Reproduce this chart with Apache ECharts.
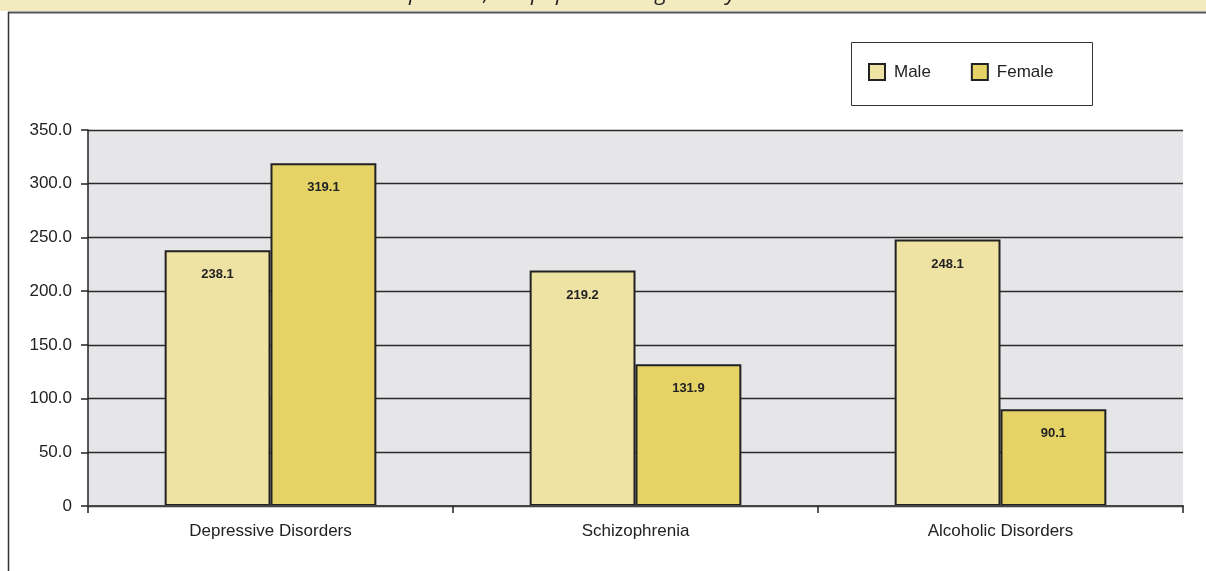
<!DOCTYPE html>
<html>
<head>
<meta charset="utf-8">
<script src="https://cdn.jsdelivr.net/npm/echarts@6/dist/echarts.min.js"></script>
<style>
html,body{margin:0;padding:0;background:#fff;}
#chart{width:1206px;height:571px;}
</style>
</head>
<body>
<div id="chart"></div>
<script>
var categories = ['Depressive Disorders', 'Schizophrenia', 'Alcoholic Disorders'];
var maleValues = [238.1, 219.2, 248.1];
var femaleValues = [319.1, 131.9, 90.1];
var seriesNames = ['Male', 'Female'];
var titleText = 'Rates per 100,000 population aged 15 years and over';

var chart = echarts.init(document.getElementById('chart'), null, {renderer: 'canvas'});
var FONT = 'Liberation Sans, Arial, sans-serif';
var labelStyle = {
  show: true,
  position: 'insideTop',
  distance: 18,
  fontFamily: FONT,
  fontSize: 13,
  fontWeight: 'bold',
  color: '#222',
  formatter: function (p) { return p.value.toFixed(1); }
};
var option = {
  animation: false,
  backgroundColor: '#ffffff',
  textStyle: {fontFamily: FONT},
  graphic: [
    {type: 'rect', shape: {x: 0, y: 0, width: 1206, height: 11}, style: {fill: '#f3ebc0'}, silent: true, z: 0},
    {type: 'text', style: {text: titleText, x: 610, y: 5, textAlign: 'center', textVerticalAlign: 'bottom', font: 'italic 22px "Open Sans", sans-serif', fill: '#222'}, silent: true, z: 1},
    {type: 'line', shape: {x1: 8, y1: 12.5, x2: 1206, y2: 12.5}, style: {stroke: '#555', lineWidth: 2}, silent: true, z: 2},
    {type: 'line', shape: {x1: 8.5, y1: 12, x2: 8.5, y2: 571}, style: {stroke: '#333', lineWidth: 1.5}, silent: true, z: 2},
    {type: 'rect', shape: {x: 851.5, y: 42.5, width: 241, height: 63}, style: {fill: '#fff', stroke: '#333', lineWidth: 1}, silent: true, z: 2}
  ],
  legend: {
    data: seriesNames,
    left: 868,
    top: 63,
    padding: 0,
    icon: 'rect',
    itemWidth: 16,
    itemHeight: 16,
    itemGap: 40,
    z: 10,
    textStyle: {fontSize: 17, color: '#222', fontFamily: FONT, padding: [0, 0, 0, 4]}
  },
  grid: {
    left: 88, right: 23, top: 130, bottom: 65,
    show: true, backgroundColor: '#e6e6e8', borderWidth: 0
  },
  xAxis: {
    type: 'category',
    data: categories,
    boundaryGap: true,
    axisLine: {show: true, lineStyle: {color: '#444', width: 2}},
    axisTick: {show: true, interval: 0, length: 7, lineStyle: {color: '#222', width: 1.5}},
    axisLabel: {margin: 17, fontSize: 17, color: '#222', fontFamily: FONT},
    z: 5
  },
  yAxis: {
    type: 'value',
    min: 0, max: 350, interval: 50,
    axisLine: {show: true, lineStyle: {color: '#222', width: 1.5}},
    axisTick: {show: true, length: 7, lineStyle: {color: '#222', width: 1.5}},
    axisLabel: {margin: 16, fontSize: 17, color: '#222', fontFamily: FONT,
      formatter: function (v) { return v === 0 ? '0' : v.toFixed(1); }},
    splitLine: {show: true, lineStyle: {color: '#2a2a2a', width: 1.3}}
  },
  series: [
    {
      name: seriesNames[0], type: 'bar', data: maleValues,
      barGap: '0%', barCategoryGap: '42%',
      itemStyle: {color: '#efe3a4', borderColor: '#222', borderWidth: 2},
      label: labelStyle
    },
    {
      name: seriesNames[1], type: 'bar', data: femaleValues,
      barGap: '0%', barCategoryGap: '42%',
      itemStyle: {color: '#e5d366', borderColor: '#222', borderWidth: 2},
      label: labelStyle
    }
  ]
};
chart.setOption(option);
</script>
</body>
</html>
